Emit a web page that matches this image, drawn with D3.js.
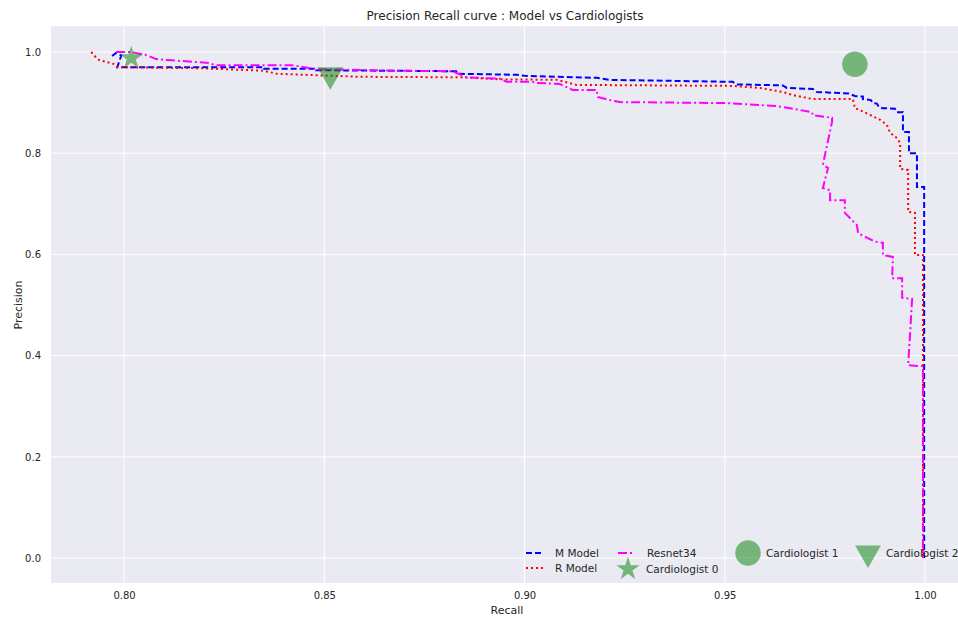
<!DOCTYPE html>
<html>
<head>
<meta charset="utf-8">
<script src="https://cdn.jsdelivr.net/npm/d3@7"></script>
<style>
  body { margin: 0; background: #fff; }
  text { font-family: "DejaVu Sans", sans-serif; fill: #262626; }
</style>
</head>
<body>
<svg class="pr_svg" width="958" height="620"></svg>
<script>
// precision / recall points: [recall, precision]
var mModel = [[0.797,0.992],[0.798,0.998],[0.7993,0.993],[0.7983,0.970],[0.835,0.970],[0.835,0.967],
  [0.848,0.967],[0.848,0.964],[0.883,0.962],[0.8835,0.957],[0.898,0.955],[0.900,0.953],[0.908,0.951],
  [0.918,0.949],[0.921,0.945],[0.952,0.941],[0.953,0.936],[0.9645,0.934],[0.9655,0.929],[0.972,0.927],
  [0.973,0.921],[0.981,0.918],[0.9825,0.913],[0.9845,0.912],[0.9845,0.907],[0.9865,0.905],[0.987,0.899],
  [0.988,0.898],[0.9885,0.891],[0.9895,0.889],[0.9925,0.888],[0.993,0.881],[0.9945,0.881],[0.9945,0.842],
  [0.996,0.842],[0.996,0.800],[0.998,0.800],[0.998,0.733],[0.9998,0.733],[0.9998,0.0]];

var rModel = [[0.7918,1.0],[0.7928,0.991],[0.7938,0.984],[0.7958,0.980],[0.7975,0.976],[0.7983,0.970],
  [0.8188,0.968],[0.835,0.963],[0.838,0.957],[0.8588,0.951],[0.884,0.950],[0.894,0.946],[0.908,0.945],
  [0.913,0.935],[0.952,0.933],[0.9588,0.929],[0.9645,0.921],[0.967,0.915],[0.972,0.907],[0.982,0.907],
  [0.9825,0.889],[0.9838,0.885],[0.9888,0.866],[0.9905,0.856],[0.9913,0.840],[0.993,0.830],[0.9938,0.820],
  [0.9938,0.769],[0.9958,0.767],[0.9958,0.684],[0.9975,0.682],[0.9975,0.599],[0.9995,0.599],[0.9995,0.0]];

var resnet34 = [[0.798,1.0],[0.8018,1.0],[0.8055,0.994],[0.808,0.986],[0.811,0.984],[0.8205,0.979],
  [0.823,0.974],[0.842,0.974],[0.848,0.966],[0.869,0.963],[0.882,0.962],[0.8855,0.950],[0.894,0.947],
  [0.8955,0.941],[0.902,0.941],[0.903,0.939],[0.9088,0.937],[0.912,0.925],[0.918,0.925],[0.9183,0.911],
  [0.9213,0.905],[0.9238,0.901],[0.9505,0.899],[0.963,0.893],[0.9663,0.889],[0.9718,0.881],[0.972,0.875],
  [0.9768,0.870],[0.9768,0.862],[0.9745,0.777],[0.9758,0.771],[0.9745,0.731],[0.9763,0.727],[0.9763,0.707],
  [0.980,0.707],[0.980,0.682],[0.983,0.658],[0.9833,0.642],[0.9875,0.625],[0.9895,0.623],[0.9895,0.599],
  [0.992,0.595],[0.9918,0.553],[0.9943,0.553],[0.9943,0.514],[0.9968,0.512],[0.9958,0.381],[0.9995,0.379],
  [0.9995,0.0]];

var cardiologists = [
  {name: "Cardiologist 0", recall: 0.8018, precision: 0.988, shape: "star"},
  {name: "Cardiologist 1", recall: 0.9825, precision: 0.976, shape: "circle"},
  {name: "Cardiologist 2", recall: 0.8515, precision: 0.955, shape: "triangle"}
];

var xTicks = [0.80, 0.85, 0.90, 0.95, 1.00];
var yTicks = [0.0, 0.2, 0.4, 0.6, 0.8, 1.0];

var svg = d3.select("svg.pr_svg");
var plotLeft = 51, plotTop = 26, plotRight = 958, plotBottom = 583;

var x = d3.scaleLinear().domain([0.78175, 1.00825]).range([plotLeft, plotRight]);
var y = d3.scaleLinear().domain([-0.0494, 1.0514]).range([plotBottom, plotTop]);

svg.append("rect")
  .attr("x", plotLeft).attr("y", plotTop)
  .attr("width", plotRight - plotLeft).attr("height", plotBottom - plotTop)
  .attr("fill", "#eaeaf2");

// grid
svg.selectAll("line.vgrid").data(xTicks).enter().append("line")
  .attr("class", "vgrid")
  .attr("x1", function(d) { return x(d); }).attr("x2", function(d) { return x(d); })
  .attr("y1", plotTop).attr("y2", plotBottom)
  .attr("stroke", "white").attr("stroke-width", 1);
svg.selectAll("line.hgrid").data(yTicks).enter().append("line")
  .attr("class", "hgrid")
  .attr("y1", function(d) { return y(d); }).attr("y2", function(d) { return y(d); })
  .attr("x1", plotLeft).attr("x2", plotRight)
  .attr("stroke", "white").attr("stroke-width", 1);

// axes (no domain line, seaborn style)
svg.append("g").attr("transform", "translate(0," + plotBottom + ")")
  .call(d3.axisBottom(x).tickValues(xTicks).tickSize(0).tickPadding(9).tickFormat(d3.format(".2f")));
svg.append("g").attr("transform", "translate(" + plotLeft + ",0)")
  .call(d3.axisLeft(y).tickValues(yTicks).tickSize(0).tickPadding(10).tickFormat(d3.format(".1f")));
svg.selectAll(".domain").remove();
svg.selectAll(".tick text").attr("font-size", 10).attr("font-family", "DejaVu Sans").style("fill", "#262626");

svg.append("text").attr("x", 505).attr("y", 20)
  .attr("text-anchor", "middle").attr("font-size", 12)
  .text("Precision Recall curve : Model vs Cardiologists");
svg.append("text").attr("x", 507).attr("y", 614)
  .attr("text-anchor", "middle").attr("font-size", 11).text("Recall");
svg.append("text").attr("transform", "translate(22,305) rotate(-90)")
  .attr("text-anchor", "middle").attr("font-size", 11).text("Precision");

var line = d3.line().x(function(d) { return x(d[0]); }).y(function(d) { return y(d[1]); });

var curves = [
  {name: "M Model", data: mModel, color: "#0000ff", dash: "6,3"},
  {name: "R Model", data: rModel, color: "#ff0000", dash: "2,3"},
  {name: "Resnet34", data: resnet34, color: "#ff00ff", dash: "9,3,2,3"}
];

var plot = svg.append("g");
plot.selectAll("path.curve").data(curves).enter().append("path")
  .attr("class", "curve")
  .attr("d", function(d) { return line(d.data); })
  .attr("fill", "none")
  .attr("stroke", function(d) { return d.color; })
  .attr("stroke-width", 2)
  .attr("stroke-dasharray", function(d) { return d.dash; });

var symbolFor = {
  star: d3.symbol().type(d3.symbolStar).size(170),
  circle: d3.symbol().type(d3.symbolCircle).size(510),
  triangle: d3.symbol().type(d3.symbolTriangle).size(290)
};

function drawMarker(g, shape, cx, cy) {
  g.append("path")
    .attr("d", symbolFor[shape]())
    .attr("transform", "translate(" + cx + "," + cy + ")" + (shape === "triangle" ? " rotate(180)" : ""))
    .attr("fill", "#008000")
    .attr("fill-opacity", 0.5);
}

cardiologists.forEach(function(c) {
  drawMarker(plot, c.shape, x(c.recall), y(c.precision));
});

// legend, 4 columns
var legend = svg.append("g");
var legendItems = [
  {label: "M Model", kind: "line", curve: curves[0], lx: 526, ly: 553},
  {label: "R Model", kind: "line", curve: curves[1], lx: 526, ly: 568},
  {label: "Resnet34", kind: "line", curve: curves[2], lx: 618, ly: 553},
  {label: "Cardiologist 0", kind: "star", lx: 618, ly: 569},
  {label: "Cardiologist 1", kind: "circle", lx: 738, ly: 553},
  {label: "Cardiologist 2", kind: "triangle", lx: 858, ly: 553}
];
legendItems.forEach(function(it) {
  if (it.kind === "line") {
    legend.append("line")
      .attr("x1", it.lx).attr("x2", it.lx + 17).attr("y1", it.ly).attr("y2", it.ly)
      .attr("stroke", it.curve.color).attr("stroke-width", 2)
      .attr("stroke-dasharray", it.curve.dash);
  } else {
    drawMarker(legend, it.kind, it.lx + 10, it.ly);
  }
  legend.append("text")
    .attr("x", it.kind === "line" ? it.lx + 29 : it.lx + 28)
    .attr("y", it.ly + 4)
    .attr("font-size", 10.5)
    .text(it.label);
});
</script>
</body>
</html>
